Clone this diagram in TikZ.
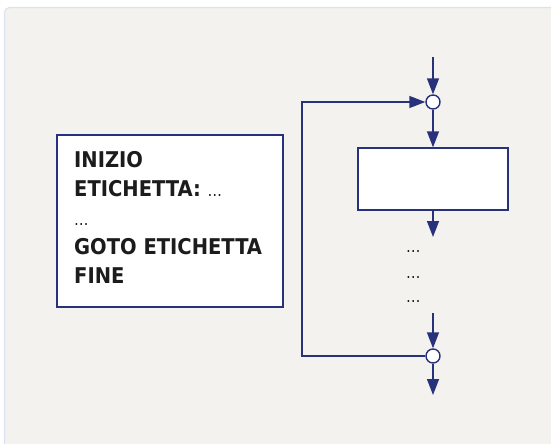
\documentclass[tikz,border=0pt]{standalone}
\usepackage{fontspec}
\setmainfont{DejaVu Sans Condensed}
\usetikzlibrary{arrows.meta}
\definecolor{navy}{HTML}{27327A}
\definecolor{panelbg}{HTML}{F3F2EE}
\definecolor{panelline}{HTML}{DAE3F3}
\definecolor{ink}{HTML}{1C1C1C}
\tikzset{
  flow/.style={draw=navy, line width=1.4pt},
  arr/.style={flow, -{Triangle[length=16pt,width=12pt]}},
  joint/.style={circle, draw=navy, line width=1.4pt, fill=white, minimum size=14pt, inner sep=0pt},
  block/.style={rectangle, draw=navy, line width=1.4pt, fill=white, inner sep=0pt},
  dots/.style={anchor=base west, inner sep=0pt, text=ink, font=\fontsize{16}{16}\selectfont},
}
\begin{document}
\begin{tikzpicture}[x=1pt,y=-1pt]
\useasboundingbox (0,0) rectangle (551,444);
% panel
\fill[panelbg, rounded corners=5pt] (4.5,7.5) rectangle (600,500);
\draw[panelline, line width=1.2pt, rounded corners=5pt] (4.5,500) -- (4.5,7.5) -- (600,7.5);

% code box
\node[block, minimum width=226pt, minimum height=172pt] (code) at (170,221) {};
\node[anchor=north west, inner sep=0pt, align=left, text=ink,
      font={\fontsize{21.7}{29}\selectfont\bfseries}] (codetext) at (74,151.5)
  {INIZIO\\
   ETICHETTA: {\mdseries\fontsize{16}{29}\selectfont …}\\
   {\mdseries\fontsize{16}{29}\selectfont …}\\
   GOTO ETICHETTA\\
   FINE};

% flow
\coordinate (in) at (433,57);
\node[joint] (j1) at (433,102) {};
\node[block, minimum width=150pt, minimum height=62pt] (stmt) at (433,179) {};
\coordinate (out1) at (433,237);
\node[dots] (d1) at (406,252) {…};
\node[dots] (d2) at (406,278) {…};
\node[dots] (d3) at (406,302) {…};
\coordinate (in2) at (433,313);
\node[joint] (j2) at (433,356) {};
\coordinate (out) at (433,395);
\coordinate (lb) at (302,356);
\coordinate (lt) at (302,102);

\draw[arr] (in) -- (j1.north);
\draw[arr] (j1.south) -- (stmt.north);
\draw[arr] (stmt.south) -- (out1);
\draw[arr] (in2) -- (j2.north);
\draw[arr] (j2.south) -- (out);
\draw[arr] (j2.west) -- (lb) -- (lt) -- (j1.west);
\end{tikzpicture}
\end{document}
